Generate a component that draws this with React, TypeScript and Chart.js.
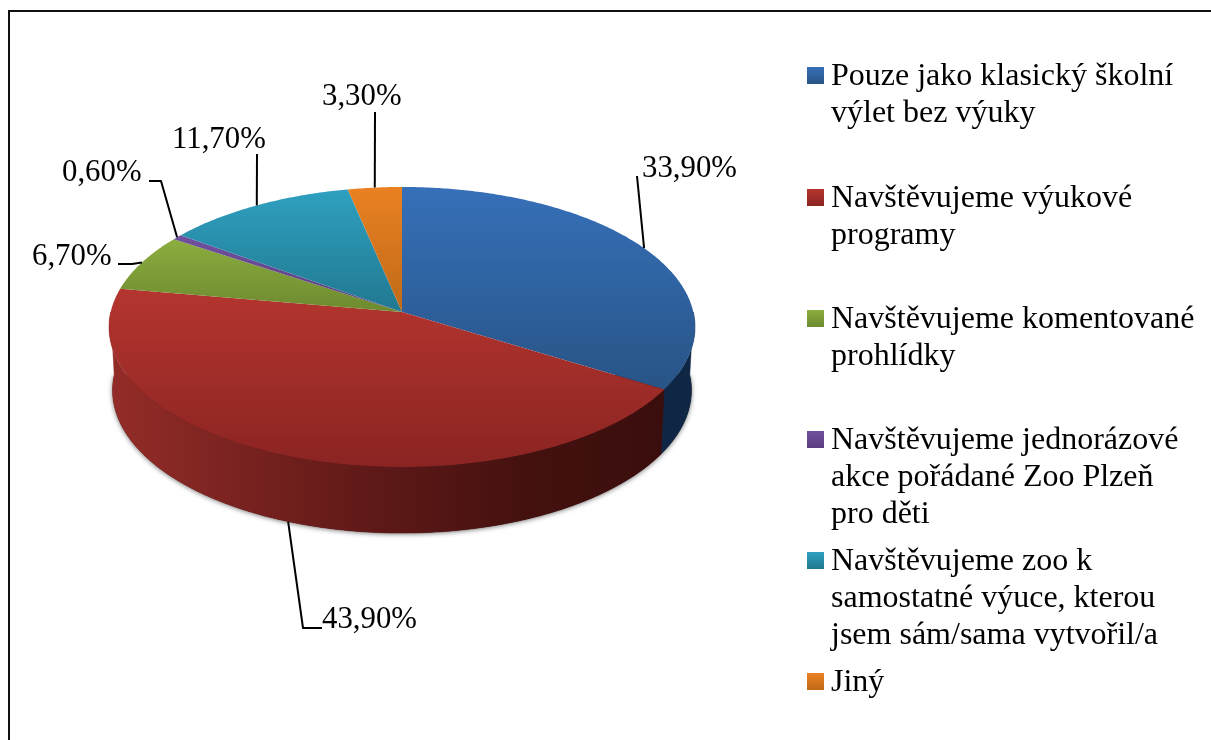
import React, { useEffect, useRef } from "react";
import { Chart, registerables } from "chart.js";

Chart.register(...registerables);

const categories: string[][] = [
  ["Pouze jako klasický školní", "výlet bez výuky"],
  ["Navštěvujeme výukové", "programy"],
  ["Navštěvujeme komentované", "prohlídky"],
  ["Navštěvujeme jednorázové", "akce pořádané Zoo Plzeň", "pro děti"],
  ["Navštěvujeme zoo k", "samostatné výuce, kterou", "jsem sám/sama vytvořil/a"],
  ["Jiný"],
];
const values: number[] = [33.9, 43.9, 6.7, 0.6, 11.7, 3.3];
const valueLabels: string[] = ["33,90%", "43,90%", "6,70%", "0,60%", "11,70%", "3,30%"];

// Styles and layout, apart from the data
const faceTop = ["#3670b9", "#b5352f", "#8cad3f", "#71509e", "#2fa0c0", "#ea8122"];
const faceBottom = ["#285486", "#8a2422", "#6d8a2f", "#5a3e80", "#217890", "#bf6a18"];
const wallStops: [number, string][][] = [
  [[0, "#0d2440"], [1, "#0f2745"]],
  [[0, "#932c28"], [0.45, "#611a18"], [0.75, "#44110f"], [1, "#3a0e0d"]],
  [[0, "#4a5f20"], [1, "#4a5f20"]],
  [[0, "#3c2a58"], [1, "#3c2a58"]],
  [[0, "#155263"], [1, "#155263"]],
  [[0, "#7f4710"], [1, "#7f4710"]],
];
const labelPos: [number, number][] = [[642, 177], [322, 628], [32, 265], [62, 181], [172, 148], [322, 105]];
const leaderStart: [number, number][][] = [
  [[637, 176]],
  [[322, 628], [303, 628]],
  [[118, 264], [132, 264]],
  [[149, 181], [161, 181]],
  [[257, 154]],
  [[375, 112]],
];
const legendBaselines = [85, 207, 328, 449, 570, 691];
const FONT = '"Liberation Serif", "Times New Roman", serif';
const LABEL_SIZE = 30.8;
const LEGEND_SIZE = 32;
const LEGEND_LINE = 37;

const CX = 402, CY = 312, RX = 291.3, RY = 138.4, K = 0.107;
const DEPTH = 63, BOT_X = 0.988, BOT_Y = 1.02;

function topPt(a: number): [number, number] {
  const X = Math.cos(a), Y = Math.sin(a), d = 1 - K * Y;
  return [CX + (RX * X) / d, CY + (RY * Y) / d];
}
function botPt(a: number): [number, number] {
  const X = Math.cos(a), Y = Math.sin(a), d = 1 - K * Y;
  return [CX + (BOT_X * RX * X) / d, CY + DEPTH + (BOT_Y * RY * Y) / d];
}
function samples(a0: number, a1: number): number[] {
  const n = Math.max(2, Math.ceil(Math.abs(a1 - a0) / 0.01));
  const out: number[] = [];
  for (let i = 0; i <= n; i++) out.push(a0 + ((a1 - a0) * i) / n);
  return out;
}

const pie3d = {
  id: "pie3d",
  beforeDraw(chart: any) {
    const ctx = chart.ctx;
    ctx.save();
    ctx.fillStyle = "#ffffff";
    ctx.fillRect(0, 0, chart.width, chart.height);
    ctx.fillStyle = "#111111";
    ctx.fillRect(8, 10, chart.width - 8, 2);
    ctx.fillRect(8, 10, 2, chart.height - 10);
    ctx.restore();
  },
  beforeDatasetDraw(chart: any, args: any) {
    const ctx = chart.ctx;
    const arcs = chart.getDatasetMeta(args.index).data;
    ctx.save();
    // soft shadow under the base
    ctx.save();
    ctx.shadowColor = "rgba(0,0,0,0.55)";
    ctx.shadowBlur = 5;
    ctx.shadowOffsetX = 0;
    ctx.shadowOffsetY = 1;
    ctx.fillStyle = "#3a0e0d";
    ctx.beginPath();
    samples(0, Math.PI).forEach((a, i) => {
      const p = botPt(a);
      i ? ctx.lineTo(p[0], p[1]) : ctx.moveTo(p[0], p[1]);
    });
    ctx.closePath();
    ctx.fill();
    ctx.restore();

    // walls
    arcs.forEach((arc: any, i: number) => {
      const lo = Math.max(arc.startAngle, 0);
      const hi = Math.min(arc.endAngle, Math.PI);
      if (hi <= lo) return;
      const g = ctx.createLinearGradient(CX - RX, 0, 665, 0);
      wallStops[i].forEach(([o, c]) => g.addColorStop(o, c));
      ctx.fillStyle = g;
      ctx.strokeStyle = g;
      ctx.lineWidth = 0.5;
      ctx.beginPath();
      samples(lo, hi).forEach((a, j) => {
        const p = topPt(a);
        j ? ctx.lineTo(p[0], p[1]) : ctx.moveTo(p[0], p[1]);
      });
      samples(hi, lo).forEach((a) => {
        const p = botPt(a);
        ctx.lineTo(p[0], p[1]);
      });
      ctx.closePath();
      ctx.fill();
      ctx.stroke();
    });

    // top faces
    arcs.forEach((arc: any, i: number) => {
      const pts = samples(arc.startAngle, arc.endAngle).map(topPt);
      pts.unshift([CX, CY]);
      const ys = pts.map((p) => p[1]);
      const g = ctx.createLinearGradient(0, Math.min(...ys), 0, Math.max(...ys));
      g.addColorStop(0, faceTop[i]);
      g.addColorStop(1, faceBottom[i]);
      ctx.fillStyle = g;
      ctx.beginPath();
      pts.forEach((p, j) => (j ? ctx.lineTo(p[0], p[1]) : ctx.moveTo(p[0], p[1])));
      ctx.closePath();
      ctx.fill();
    });
    ctx.restore();
    return false;
  },
  afterDatasetsDraw(chart: any) {
    const ctx = chart.ctx;
    const arcs = chart.getDatasetMeta(0).data;
    ctx.save();
    ctx.strokeStyle = "#000000";
    ctx.lineWidth = 2;
    ctx.lineJoin = "round";
    arcs.forEach((arc: any, i: number) => {
      const mid = (arc.startAngle + arc.endAngle) / 2;
      const end = Math.sin(mid) > 0.5 ? botPt(mid) : topPt(mid);
      ctx.beginPath();
      leaderStart[i].forEach((p, j) => (j ? ctx.lineTo(p[0], p[1]) : ctx.moveTo(p[0], p[1])));
      ctx.lineTo(end[0], end[1]);
      ctx.stroke();
    });
    ctx.fillStyle = "#000000";
    ctx.textBaseline = "alphabetic";
    ctx.textAlign = "left";
    ctx.font = `${LABEL_SIZE}px ${FONT}`;
    valueLabels.forEach((t, i) => ctx.fillText(t, labelPos[i][0], labelPos[i][1]));

    // legend
    ctx.font = `${LEGEND_SIZE}px ${FONT}`;
    (chart.data.labels as string[][]).forEach((lines, i) => {
      const base = legendBaselines[i];
      const g = ctx.createLinearGradient(0, base - 18, 0, base - 1);
      g.addColorStop(0, faceTop[i]);
      g.addColorStop(1, faceBottom[i]);
      ctx.fillStyle = g;
      ctx.fillRect(807, base - 18, 17, 17);
      ctx.fillStyle = "#000000";
      lines.forEach((l, j) => ctx.fillText(l, 831, base + j * LEGEND_LINE));
    });
    ctx.restore();
  },
};

export default function App() {
  const ref = useRef<HTMLCanvasElement | null>(null);
  useEffect(() => {
    document.body.style.margin = "0";
    const chart = new Chart(ref.current as HTMLCanvasElement, {
      type: "pie",
      data: {
        labels: categories as any,
        datasets: [{ data: values, backgroundColor: faceTop, borderWidth: 0 }],
      },
      options: {
        responsive: false,
        animation: false,
        plugins: { legend: { display: false }, tooltip: { enabled: false } },
      },
      plugins: [pie3d as any],
    });
    return () => chart.destroy();
  }, []);
  return <canvas ref={ref} width={1211} height={740} style={{ display: "block" }} />;
}
